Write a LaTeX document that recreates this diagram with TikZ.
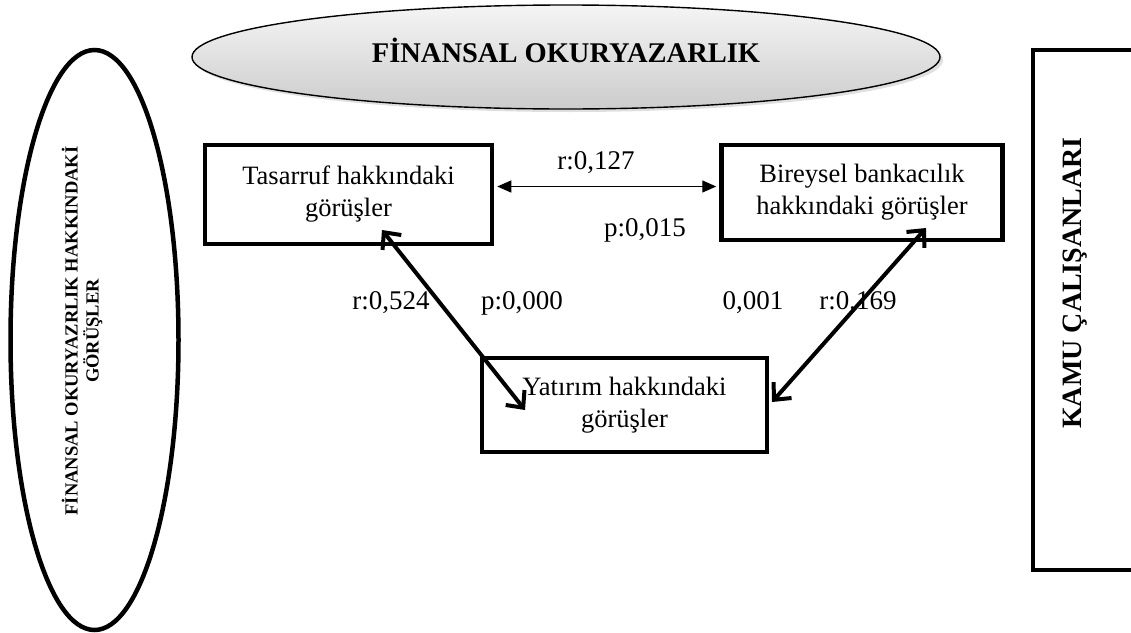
\documentclass[tikz,border=0pt]{standalone}
\usepackage{fontspec}
\setmainfont{Liberation Serif}
\usetikzlibrary{arrows.meta,shadows,shapes.geometric,calc}
\begin{document}
\begin{tikzpicture}[x=1pt,y=-1pt,
  box/.style={draw, line width=4.5pt, align=center, inner sep=0pt,
    font=\fontsize{26.5}{32}\selectfont},
  lbl/.style={font=\fontsize{27}{32}\selectfont, inner sep=0pt},
  boldtitle/.style={font=\fontsize{28.5}{32}\selectfont\bfseries, inner sep=0pt, align=center},
  heavyarrow/.style={line width=4pt,
    {Straight Barb[length=13pt,width=24pt,line width=4pt]}-{Straight Barb[length=13pt,width=24pt,line width=4pt]}},
  lightarrow/.style={line width=1.3pt,
    {Triangle[length=14pt,width=12pt]}-{Triangle[length=14pt,width=12pt]}}]
\useasboundingbox (0,0) rectangle (1131,632);

% top ellipse
\node[ellipse, draw, line width=1.4pt, minimum width=748pt, minimum height=104pt,
  top color=gray!8, bottom color=gray!40,
  drop shadow={opacity=0.25, shadow xshift=3pt, shadow yshift=-3pt}] (top) at (566,57) {};
\node[boldtitle] (title) at (566,50) {FİNANSAL OKURYAZARLIK};

% left ellipse
\node[ellipse, draw, line width=4.5pt, minimum width=168pt, minimum height=580pt] (lell) at (94.5,340) {};
\node[rotate=90, align=center, inner sep=0pt,
  font=\fontsize{18.5}{21}\selectfont\bfseries] (ltext) at (82,331)
  {FİNANSAL OKURYAZRLIK HAKKINDAKİ\\GÖRÜŞLER};

% right box
\node[draw, line width=4.5pt, minimum width=110pt, minimum height=520pt] (kamu) at (1088,310) {};
\node[rotate=90, inner sep=0pt, font=\fontsize{28}{32}\selectfont\bfseries] (ktext) at (1075,283)
  {KAMU ÇALIŞANLARI};

% boxes
\node[box, minimum width=287pt, minimum height=99pt] (tas) at (348.5,194.5)
  {Tasarruf hakkındaki\\görüşler};
\node[box, minimum width=281pt, minimum height=95pt] (bir) at (862,192.5)
  {Bireysel bankacılık\\hakkındaki görüşler};
\node[box, minimum width=285pt, minimum height=94pt] (yat) at (624.5,405)
  {Yatırım hakkındaki\\görüşler};

% connectors
\draw[lightarrow, shorten <=3pt, shorten >=3pt] ([yshift=8pt]tas.east) -- ([yshift=8pt]tas.east -| bir.west);

\coordinate (ta) at (382,230);
\coordinate (ya) at (525,410);
\coordinate (bb) at (926,228);
\coordinate (yb) at (772,402);
\draw[heavyarrow] (ta) -- (ya);
\draw[heavyarrow] (bb) -- (yb);

% labels
\node[lbl] (r1) at (596,163) {r:0,127};
\node[lbl] (p1) at (645,230) {p:0,015};
\node[lbl] (r2) at (391,303) {r:0,524};
\node[lbl] (p2) at (522,303) {p:0,000};
\node[lbl] (p3) at (753,303) {0,001};
\node[lbl] (r3) at (858,303) {r:0,169};
\end{tikzpicture}
\end{document}
